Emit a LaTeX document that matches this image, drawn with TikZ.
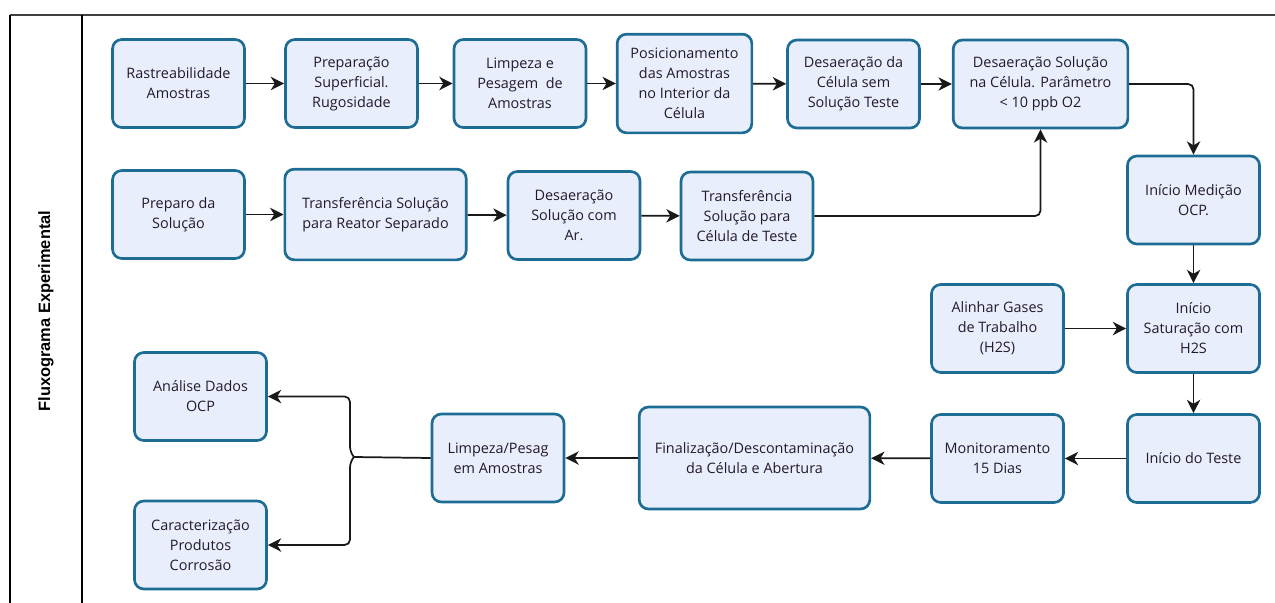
\documentclass[tikz,border=0pt]{standalone}
\usepackage{fontspec}
\setmainfont{Open Sans}
\newfontfamily\rotulo{Liberation Sans}
\usetikzlibrary{arrows.meta}
\definecolor{caixaborda}{RGB}{28,108,148}
\definecolor{caixafundo}{RGB}{233,238,252}
\definecolor{linha}{RGB}{25,25,25}
\definecolor{texto}{RGB}{35,25,45}
\begin{document}
\begin{tikzpicture}[x=0.75pt, y=-0.75pt, >={Stealth[length=10pt,width=10pt,inset=3pt]},
  etapa/.style={draw=caixaborda, fill=caixafundo, line width=2pt, rounded corners=7pt,
    align=center, inner sep=0pt, minimum width=99pt, minimum height=66pt,
    text=texto, font=\fontsize{10.8}{15}\selectfont},
  seta/.style={->, line width=1.3pt, color=linha}]
\useasboundingbox (0,0) rectangle (1275,603);
\draw[line width=0.9pt, color=black!75] (10,15) -- (1275,15);
\draw[line width=0.9pt] (10,15) -- (10,603);
\draw[line width=0.9pt] (82,15) -- (82,603);
\node[rotate=90, font=\rotulo\bfseries\fontsize{12.3}{14}\selectfont] (titulo) at (46,311) {Fluxograma Experimental};
\node[etapa] (rastreab) at (178.5,83.5) {Rastreabilidade\\Amostras};
\node[etapa] (prepsup) at (351.5,83.5) {Preparação\\Superficial.\\Rugosidade};
\node[etapa] (limpeza) at (520,83.5) {Limpeza e\\Pesagem~~de\\Amostras};
\node[etapa, minimum width=101pt, minimum height=74pt] (posic) at (684.5,83.5) {Posicionamento\\das Amostras\\no Interior da\\Célula};
\node[etapa] (desaercel) at (853.5,84) {Desaeração da\\Célula sem\\Solução Teste};
\node[etapa, minimum width=131pt] (desaersol) at (1040.5,84) {Desaeração Solução\\na Célula. Parâmetro\\< 10 ppb O2};
\node[etapa] (inicioocp) at (1193.5,200) {Início Medição\\OCP.};
\node[etapa] (preparo) at (178.5,214.5) {Preparo da\\Solução};
\node[etapa, minimum width=136pt, minimum height=68pt] (transfreator) at (375.5,214.5) {Transferência Solução\\para Reator Separado};
\node[etapa] (desaerar) at (574,215.5) {Desaeração\\Solução com\\Ar.};
\node[etapa] (transfcel) at (747,216) {Transferência\\Solução para\\Célula de Teste};
\node[etapa] (gases) at (997.5,328.5) {Alinhar Gases\\de Trabalho\\(H2S)};
\node[etapa] (saturacao) at (1193.5,328.5) {Início\\Saturação com\\H2S};
\node[etapa] (inicioteste) at (1193.5,458.5) {Início do Teste};
\node[etapa] (monitor) at (997.5,458.5) {Monitoramento\\15 Dias};
\node[etapa, minimum width=173pt, minimum height=76.5pt] (finaliz) at (754.5,458) {Finalização/Descontaminação\\da Célula e Abertura};
\node[etapa] (limpfinal) at (498,458) {Limpeza/Pesag\\em Amostras};
\node[etapa] (analise) at (200.5,396.5) {Análise Dados\\OCP};
\node[etapa] (caract) at (200.5,545) {Caracterização\\Produtos\\Corrosão};
\draw[seta] (rastreab) -- (prepsup);
\draw[seta] (prepsup) -- (limpeza);
\draw[seta] (limpeza) -- (posic);
\draw[seta] (posic) -- (desaercel);
\draw[seta] (desaercel) -- (desaersol);
\draw[seta, rounded corners=4pt] (desaersol.east) -| (inicioocp.north);
\draw[seta] (preparo) -- (transfreator);
\draw[seta] (transfreator) -- (desaerar);
\draw[seta] (desaerar) -- (transfcel);
\draw[seta, rounded corners=4pt] (transfcel.east) -| (desaersol.south);
\draw[seta] (inicioocp) -- (saturacao);
\draw[seta] (gases) -- (saturacao);
\draw[seta] (saturacao) -- (inicioteste);
\draw[seta] (inicioteste) -- (monitor);
\draw[seta] (monitor) -- (finaliz);
\draw[seta] (finaliz) -- (limpfinal);
\coordinate (chave) at (354,457);
\draw[line width=1.3pt, color=linha] (limpfinal.west) -- (chave);
\draw[seta, rounded corners=4pt] (chave) -- ++(-4,-5) |- (analise.east);
\draw[seta, rounded corners=4pt] (chave) -- ++(-4,5) |- (caract.east);
\end{tikzpicture}
\end{document}
